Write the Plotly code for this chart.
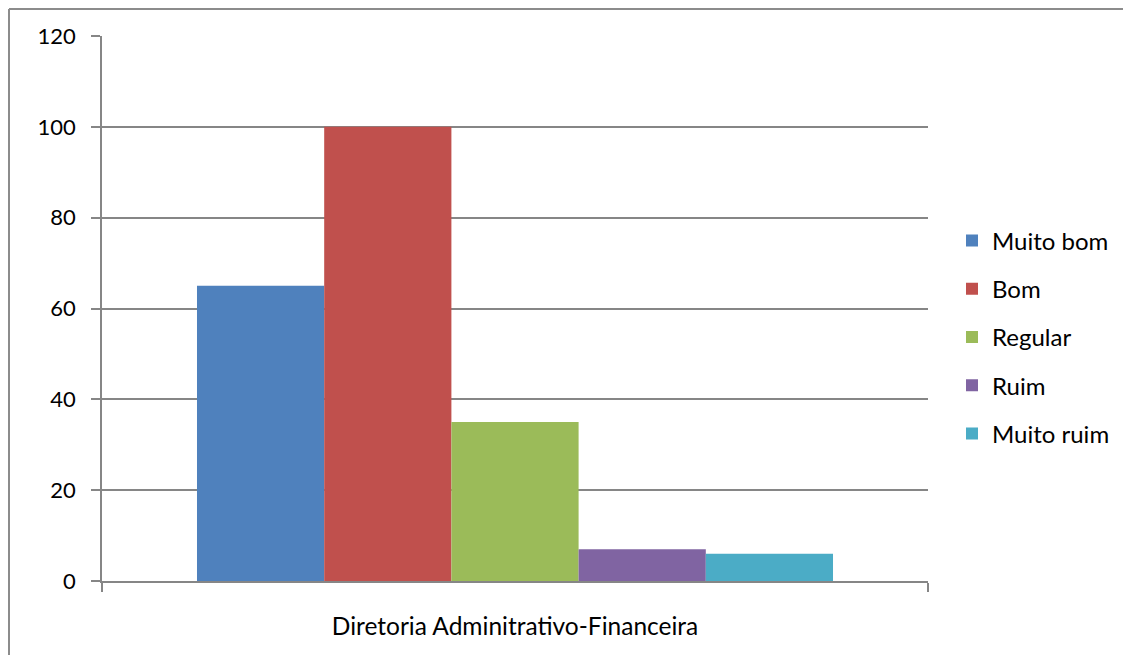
import plotly.graph_objects as go

category = ["Diretoria Adminitrativo-Financeira"]
series_names = ["Muito bom", "Bom", "Regular", "Ruim", "Muito ruim"]
series_values = [65, 100, 35, 7, 6]
series_colors = ["#4F81BD", "#C0504D", "#9BBB59", "#8064A2", "#4BACC6"]
y_ticks = [0, 20, 40, 60, 80, 100, 120]

# page body has an 8px margin, so figure coordinates = screen - 8
OFF = 8
W, H = 1115, 647
PL, PR, PT, PB = 102 - OFF, 928 - OFF, 36 - OFF, 581 - OFF
L, R, T, B = PL, W - PR, PT, H - PB
pw, ph = PR - PL, PB - PT

fig = go.Figure()
for name, val, col in zip(series_names, series_values, series_colors):
    fig.add_trace(go.Bar(x=category, y=[val], name=name, marker_color=col,
                         marker_line_width=0, legendgroup=name))

FAM = "Lato, Calibri, Carlito, sans-serif"
tick_font = dict(family=FAM, size=22, color="#000000")
cat_font = dict(family=FAM, size=24.5, color="#000000")
leg_font = dict(family=FAM, size=24, color="#000000")

def px_x(x):
    return (x - OFF - L) / pw

def px_y(y):
    return (PB - (y - OFF)) / ph

fig.update_layout(
    width=W, height=H,
    margin=dict(l=L, r=R, t=T, b=B, pad=0, autoexpand=False),
    paper_bgcolor="white", plot_bgcolor="white",
    font=tick_font,
    barmode="group", bargap=0.23, bargroupgap=0,
    showlegend=True,
    legend=dict(x=px_x(952), y=px_y(337), xanchor="left", yanchor="middle",
                font=leg_font, tracegroupgap=14, itemwidth=30, bgcolor="rgba(0,0,0,0)"),
    xaxis=dict(type="category", showgrid=False, showline=True, linecolor="#868686", linewidth=1.5,
               ticks="outside", ticklen=9, tickcolor="#868686", tickwidth=1.5,
               tickson="boundaries", ticklabelstandoff=23, tickfont=cat_font),
    yaxis=dict(range=[0, 120], tickvals=y_ticks, showgrid=True, gridcolor="#868686", gridwidth=1.5,
               showline=True, linecolor="#868686", linewidth=1.5, zeroline=False,
               ticks="outside", ticklen=9, tickcolor="#868686", tickwidth=1.5,
               ticklabelstandoff=11, tickfont=tick_font),
    shapes=[
        dict(type="line", xref="paper", yref="paper", x0=px_x(9), x1=px_x(9), y0=px_y(H + 20), y1=px_y(9),
             line=dict(color="#8C8C8C", width=2)),
        dict(type="line", xref="paper", yref="paper", x0=px_x(9), x1=px_x(W + 20), y0=px_y(9), y1=px_y(9),
             line=dict(color="#8C8C8C", width=2)),
    ],
)

fig.write_html("out.html")
